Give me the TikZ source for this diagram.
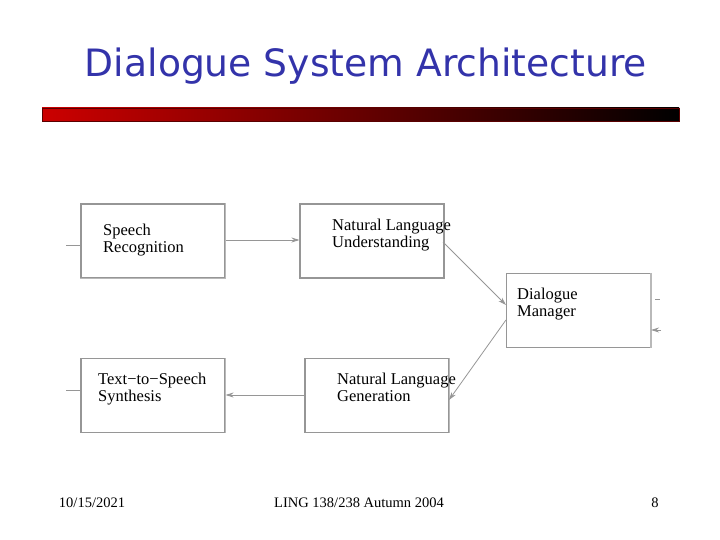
\documentclass[tikz,border=0pt]{standalone}
\usepackage{fontspec}
\usepackage{graphicx}
\setmainfont{Liberation Serif}
\newfontfamily\titlefont{DejaVu Sans}
\usetikzlibrary{arrows.meta}
\definecolor{titleblue}{RGB}{51,51,170}
\definecolor{barred}{RGB}{204,0,0}
\definecolor{boxgray}{RGB}{150,150,150}
\definecolor{shadegray}{RGB}{185,185,185}
\tikzset{
  dbox/.style={draw=boxgray, line width=1.1pt, fill=white, minimum width=144pt, minimum height=74pt, inner sep=0pt},
  dtext/.style={anchor=north west, align=left, inner sep=0pt, font=\fontsize{16.5}{16.5}\selectfont},
  conn/.style={draw=boxgray, line width=0.8pt},
  aconn/.style={conn, -{Stealth[length=8pt,width=5pt]}},
  foot/.style={font=\fontsize{14.5}{14.5}\selectfont, inner sep=0pt}
}
\begin{document}
\begin{tikzpicture}[x=1pt,y=-1pt]
\useasboundingbox (0,0) rectangle (720,540);
% title
\node[text=titleblue, inner sep=0pt] (title) at (366,66) {\resizebox{562pt}{!}{\titlefont Dialogue System Architecture}};
% bar
\shade[left color=barred, right color=black] (42,108) rectangle (679,121);
\draw[draw={rgb,255:red,90;green,0;blue,0}, line width=0.8pt] (42,108) rectangle (679,121);
% boxes
\node[dbox] (sr) at (153,241) {};
\node[dbox] (nlu) at (372,241) {};
\node[dbox] (dm) at (578.5,310.5) {};
\node[dbox] (nlg) at (377,395.5) {};
\node[dbox] (tts) at (153,395.5) {};
% right shadow edges
\draw[shadegray, line width=1.6pt] (sr.north east) -- (sr.south east) -- (sr.south west);
\draw[shadegray, line width=1.6pt] (dm.north east) -- (dm.south east);
\draw[shadegray, line width=1.6pt] (nlg.north east) -- (nlg.south east);
\draw[shadegray, line width=1.6pt] (tts.north east) -- (tts.south east);
% texts
\node[dtext] (srt) at (103,224) {Speech\\Recognition};
\node[dtext] (nlut) at (332,219) {Natural Language\\Understanding};
\node[dtext] (dmt) at (517,288) {Dialogue\\Manager};
\node[dtext] (nlgt) at (337,373) {Natural Language\\Generation};
\node[dtext] (ttst) at (98,373) {Text\textminus to\textminus Speech\\Synthesis};
% connectors
\coordinate (inL) at (66,245);
\coordinate (outL) at (66,390);
\coordinate (dmR1a) at (655,299);
\coordinate (dmR1b) at (660,299);
\coordinate (dmR2) at (661,330);
\draw[conn] (inL) -- (sr.west |- inL);
\draw[aconn] (sr.east |- 0,240) -- (nlu.west |- 0,240);
\draw[aconn] (443,242) -- (dm.west |- 0,305);
\draw[aconn] (dm.west |- 0,320) -- (449,400);
\draw[aconn] (nlg.west |- 0,395) -- (tts.east |- 0,395);
\draw[conn] (tts.west |- outL) -- (outL);
\draw[conn] (dmR1a) -- (dmR1b);
\draw[aconn] (dmR2) -- (dm.east |- dmR2);
% footer
\node[foot] (date) at (92,503) {10/15/2021};
\node[foot] (course) at (359,503) {LING 138/238 Autumn 2004};
\node[foot] (page) at (655,503) {8};
\end{tikzpicture}
\end{document}
